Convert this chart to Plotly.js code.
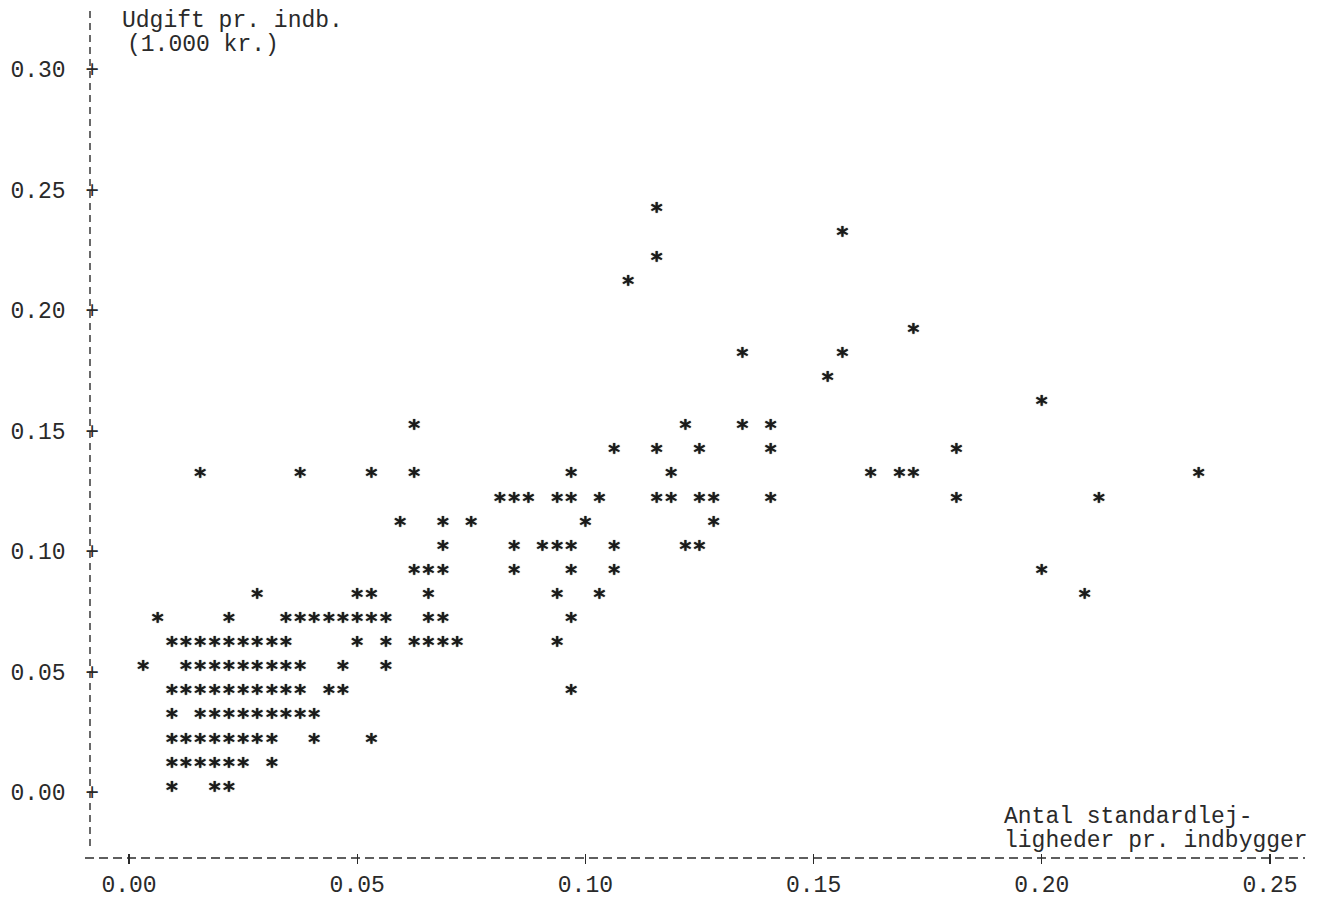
<!DOCTYPE html>
<html>
<head>
<meta charset="utf-8">
<script src="https://cdn.plot.ly/plotly-3.0.1.min.js"></script>
<style>
  html, body { margin: 0; padding: 0; background: #ffffff; }
  #chart { width: 1317px; height: 899px; }
</style>
</head>
<body>
<div id="chart"></div>
<script>
// Antal standardlejligheder pr. indbygger (x) mod udgift pr. indbygger i 1.000 kr. (y),
// one entry per kommune, listed row by row from the lowest expenditure level upward.
const standardlejligheder = [
  0.0094, 0.0188, 0.0219,
  0.0094, 0.0125, 0.0156, 0.0188, 0.0219, 0.0250, 0.0313,
  0.0094, 0.0125, 0.0156, 0.0188, 0.0219, 0.0250, 0.0281, 0.0313, 0.0406, 0.0531,
  0.0094, 0.0156, 0.0188, 0.0219, 0.0250, 0.0281, 0.0313, 0.0344, 0.0375, 0.0406,
  0.0094, 0.0125, 0.0156, 0.0188, 0.0219, 0.0250, 0.0281, 0.0313, 0.0344, 0.0375, 0.0438, 0.0469, 0.0969,
  0.0031, 0.0125, 0.0156, 0.0188, 0.0219, 0.0250, 0.0281, 0.0313, 0.0344, 0.0375, 0.0469, 0.0563,
  0.0094, 0.0125, 0.0156, 0.0188, 0.0219, 0.0250, 0.0281, 0.0313, 0.0344, 0.0500, 0.0563, 0.0625, 0.0656, 0.0688, 0.0719, 0.0938,
  0.0063, 0.0219, 0.0344, 0.0375, 0.0406, 0.0438, 0.0469, 0.0500, 0.0531, 0.0563, 0.0656, 0.0688, 0.0969,
  0.0281, 0.0500, 0.0531, 0.0656, 0.0938, 0.1031, 0.2094,
  0.0625, 0.0656, 0.0688, 0.0844, 0.0969, 0.1063, 0.2000,
  0.0688, 0.0844, 0.0906, 0.0938, 0.0969, 0.1063, 0.1219, 0.1250,
  0.0594, 0.0688, 0.0750, 0.1000, 0.1281,
  0.0813, 0.0844, 0.0875, 0.0938, 0.0969, 0.1031, 0.1156, 0.1188, 0.1250, 0.1281, 0.1406, 0.1813, 0.2125,
  0.0156, 0.0375, 0.0531, 0.0625, 0.0969, 0.1188, 0.1625, 0.1688, 0.1719, 0.2344,
  0.1063, 0.1156, 0.1250, 0.1406, 0.1813,
  0.0625, 0.1219, 0.1344, 0.1406,
  0.2000,
  0.1531,
  0.1344, 0.1563,
  0.1719,
  0.1094,
  0.1156,
  0.1563,
  0.1156
];

const udgiftPrIndb = [
  0.00, 0.00, 0.00,
  0.01, 0.01, 0.01, 0.01, 0.01, 0.01, 0.01,
  0.02, 0.02, 0.02, 0.02, 0.02, 0.02, 0.02, 0.02, 0.02, 0.02,
  0.03, 0.03, 0.03, 0.03, 0.03, 0.03, 0.03, 0.03, 0.03, 0.03,
  0.04, 0.04, 0.04, 0.04, 0.04, 0.04, 0.04, 0.04, 0.04, 0.04, 0.04, 0.04, 0.04,
  0.05, 0.05, 0.05, 0.05, 0.05, 0.05, 0.05, 0.05, 0.05, 0.05, 0.05, 0.05,
  0.06, 0.06, 0.06, 0.06, 0.06, 0.06, 0.06, 0.06, 0.06, 0.06, 0.06, 0.06, 0.06, 0.06, 0.06, 0.06,
  0.07, 0.07, 0.07, 0.07, 0.07, 0.07, 0.07, 0.07, 0.07, 0.07, 0.07, 0.07, 0.07,
  0.08, 0.08, 0.08, 0.08, 0.08, 0.08, 0.08,
  0.09, 0.09, 0.09, 0.09, 0.09, 0.09, 0.09,
  0.10, 0.10, 0.10, 0.10, 0.10, 0.10, 0.10, 0.10,
  0.11, 0.11, 0.11, 0.11, 0.11,
  0.12, 0.12, 0.12, 0.12, 0.12, 0.12, 0.12, 0.12, 0.12, 0.12, 0.12, 0.12, 0.12,
  0.13, 0.13, 0.13, 0.13, 0.13, 0.13, 0.13, 0.13, 0.13, 0.13,
  0.14, 0.14, 0.14, 0.14, 0.14,
  0.15, 0.15, 0.15, 0.15,
  0.16,
  0.17,
  0.18, 0.18,
  0.19,
  0.21,
  0.22,
  0.23,
  0.24
];

const xTickValues = [0.00, 0.05, 0.10, 0.15, 0.20, 0.25];
const xTickLabels = ['0.00', '0.05', '0.10', '0.15', '0.20', '0.25'];
const yTickValues = [0.00, 0.05, 0.10, 0.15, 0.20, 0.25, 0.30];
// each y label carries the printer-style cross that sits on the axis
const yTickLabels = ['0.00 \u2005+', '0.05 \u2005+', '0.10 \u2005+', '0.15 \u2005+',
                     '0.20 \u2005+', '0.25 \u2005+', '0.30 \u2005+'];

const ink = '#2a2a2a';
const mono = '"Liberation Mono", "DejaVu Sans Mono", monospace';

// plot box in pixels (figure is 1317 x 899)
const plotW = 1317 - 96 - 12;
const plotH = 899 - 8 - 46;

const trace = {
  type: 'scatter',
  mode: 'text',
  x: standardlejligheder,
  y: udgiftPrIndb,
  text: standardlejligheder.map(() => '*'),
  textposition: 'middle center',
  textfont: {
    family: '"DejaVu Sans Mono", monospace', size: 23, color: '#1a1a1a', weight: 'bold',
    shadow: '0px 0px 1px #1a1a1a'
  },
  hoverinfo: 'skip',
  cliponaxis: false,
  showlegend: false
};

const layout = {
  width: 1317,
  height: 899,
  margin: { l: 96, r: 12, t: 8, b: 46 },
  paper_bgcolor: '#ffffff',
  plot_bgcolor: '#ffffff',
  showlegend: false,
  xaxis: {
    range: [-0.00723, 0.25767],
    tickvals: xTickValues,
    ticktext: xTickLabels,
    ticks: 'outside',
    ticklen: 10,
    tickwidth: 1.4,
    tickcolor: ink,
    showgrid: false,
    zeroline: false,
    showline: false,
    ticklabelstandoff: 0,
    tickfont: { family: mono, size: 23, color: ink }
  },
  yaxis: {
    range: [-0.02531, 0.32531],
    tickvals: yTickValues,
    ticktext: yTickLabels,
    ticks: '',
    showgrid: false,
    zeroline: false,
    showline: false,
    ticklabelstandoff: -4,
    tickfont: { family: mono, size: 23, color: ink }
  },
  shapes: [
    // dashed vertical axis
    { type: 'line', xref: 'paper', yref: 'paper',
      x0: -6 / plotW, x1: -6 / plotW, y0: 7 / plotH, y1: 1,
      line: { color: ink, width: 1.4, dash: '7px,5px' } },
    // dashed horizontal axis
    { type: 'line', xref: 'paper', yref: 'paper',
      x0: -11 / plotW, x1: 1, y0: -5 / plotH, y1: -5 / plotH,
      line: { color: ink, width: 1.4, dash: '9px,5px' } }
  ],
  annotations: [
    { xref: 'paper', yref: 'paper', x: 24 / plotW, y: 1, xanchor: 'left', yanchor: 'middle',
      yshift: -13, text: 'Udgift pr. indb.', showarrow: false,
      font: { family: mono, size: 23, color: ink } },
    { xref: 'paper', yref: 'paper', x: 29 / plotW, y: 1, xanchor: 'left', yanchor: 'middle',
      yshift: -37, text: '(1.000 kr.)', showarrow: false,
      font: { family: mono, size: 23, color: ink } },
    { xref: 'paper', yref: 'paper', x: 906 / plotW, y: 0, xanchor: 'left', yanchor: 'middle',
      yshift: 36, text: 'Antal standardlej-', showarrow: false,
      font: { family: mono, size: 23, color: ink } },
    { xref: 'paper', yref: 'paper', x: 906 / plotW, y: 0, xanchor: 'left', yanchor: 'middle',
      yshift: 12, text: 'ligheder pr. indbygger', showarrow: false,
      font: { family: mono, size: 23, color: ink } }
  ]
};

Plotly.newPlot('chart', [trace], layout, { staticPlot: true, displayModeBar: false });
</script>
</body>
</html>
